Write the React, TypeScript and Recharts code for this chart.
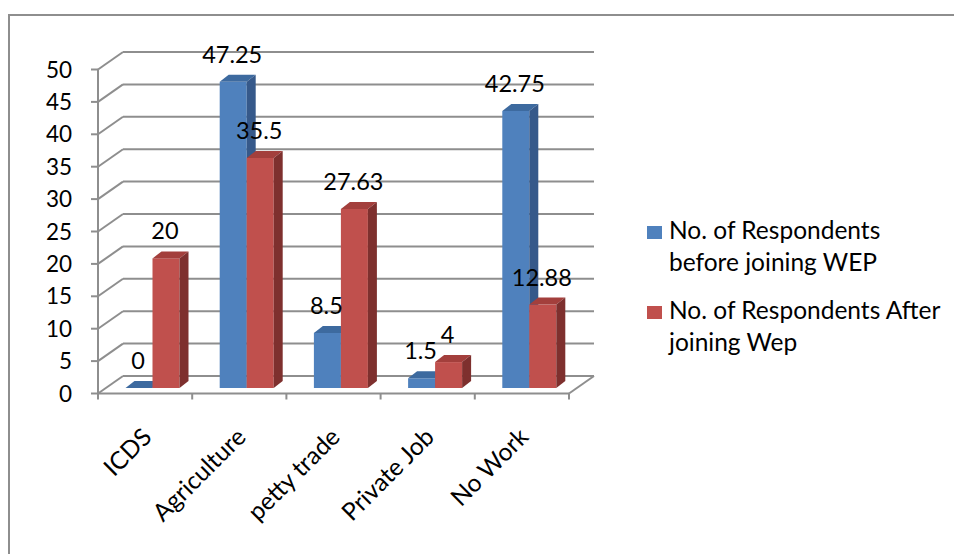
import React from "react";
import { BarChart, Bar, XAxis, YAxis, CartesianGrid, Legend, LabelList } from "recharts";

const categories = ["ICDS", "Agriculture", "petty trade", "Private Job", "No Work"];
const beforeWep = [0, 47.25, 8.5, 1.5, 42.75];
const afterWep = [20, 35.5, 27.63, 4, 12.88];
const yTicks = [0, 5, 10, 15, 20, 25, 30, 35, 40, 45, 50];
const seriesNames = [
  "No. of Respondents before joining WEP",
  "No. of Respondents After joining Wep",
];
const legendLines = [
  ["No. of Respondents", "before joining WEP"],
  ["No. of Respondents After", "joining Wep"],
];

const data = categories.map((name, i) => ({
  name,
  before: beforeWep[i],
  after: afterWep[i],
}));

const FONT = "Lato, Carlito, Calibri, sans-serif";
const GRID = "#8E8E8E";

// fake 3d: bars sit on the middle plane, axes in front, gridlines on the back wall
const FRONT = { dx: -7.5, dy: 5.5 };
const BACK = { dx: 17.5, dy: -12 };
const DEPTH = { dx: 9, dy: 7 };
const PLOT_BOTTOM = 388;

const renderGridLine = (props: any) => {
  const { x1, y1, x2, index } = props;
  const isFloor = Math.abs(y1 - PLOT_BOTTOM) < 1;
  return (
    <g key={`grid-${index}`} stroke={GRID} strokeWidth={2}>
      <line x1={x1 + FRONT.dx} y1={y1 + FRONT.dy} x2={x1 + BACK.dx} y2={y1 + BACK.dy} />
      <line x1={x1 + BACK.dx} y1={y1 + BACK.dy} x2={x2 + BACK.dx} y2={y1 + BACK.dy} />
      {isFloor && (
        <line x1={x2 + FRONT.dx} y1={y1 + FRONT.dy} x2={x2 + BACK.dx} y2={y1 + BACK.dy} />
      )}
    </g>
  );
};

const make3DBar = (front: string, top: string, side: string) => (props: any) => {
  const { x, y, width, height } = props;
  const h = Math.max(height, 0);
  return (
    <g>
      <rect x={x} y={y} width={width} height={h} fill={front} />
      <polygon
        points={`${x},${y} ${x + DEPTH.dx},${y - DEPTH.dy} ${x + width + DEPTH.dx},${y - DEPTH.dy} ${x + width},${y}`}
        fill={top}
      />
      <polygon
        points={`${x + width},${y} ${x + width + DEPTH.dx},${y - DEPTH.dy} ${x + width + DEPTH.dx},${y + h - DEPTH.dy} ${x + width},${y + h}`}
        fill={side}
      />
    </g>
  );
};

const BlueBar = make3DBar("#4F81BD", "#3D6A9F", "#36598A");
const RedBar = make3DBar("#C0504D", "#A33F3C", "#7E302E");

const renderValueLabel = (props: any) => {
  const { x, y, width, value } = props;
  return (
    <text
      x={x + width / 2 - 1}
      y={y - 19}
      textAnchor="middle"
      fontFamily={FONT}
      fontSize={23.5}
      fill="#000"
    >
      {value}
    </text>
  );
};

const YTick = (props: any) => {
  const { x, y, payload } = props;
  const fx = x + FRONT.dx;
  const fy = y + FRONT.dy;
  return (
    <g>
      <line x1={fx - 7} y1={fy} x2={fx} y2={fy} stroke={GRID} strokeWidth={2} />
      <text
        x={fx - 26}
        y={fy}
        dy="0.36em"
        textAnchor="end"
        fontFamily={FONT}
        fontSize={22.5}
        fill="#000"
      >
        {payload.value}
      </text>
    </g>
  );
};

const XTick = (props: any) => {
  const { x, y, payload, index, visibleTicksCount, width } = props;
  const band = width / visibleTicksCount;
  const fx = x + FRONT.dx;
  const fy = y + FRONT.dy;
  const ex = fx + 8;
  const ey = fy + 45;
  return (
    <g>
      <line x1={fx - band / 2} y1={fy} x2={fx - band / 2} y2={fy + 6} stroke={GRID} strokeWidth={2} />
      {index === visibleTicksCount - 1 && (
        <line x1={fx + band / 2} y1={fy} x2={fx + band / 2} y2={fy + 6} stroke={GRID} strokeWidth={2} />
      )}
      <text
        x={ex}
        y={ey}
        transform={`rotate(-45 ${ex} ${ey})`}
        textAnchor="end"
        fontFamily={FONT}
        fontSize={24.5}
        fill="#000"
      >
        {payload.value}
      </text>
    </g>
  );
};

const renderLegend = (props: any) => {
  const entries = [...props.payload].sort(
    (a: any, b: any) => seriesNames.indexOf(a.value) - seriesNames.indexOf(b.value)
  );
  return (
    <div style={{ fontFamily: FONT, fontSize: 24.5, color: "#000" }}>
      {entries.map((entry: any) => {
        const i = seriesNames.indexOf(entry.value);
        return (
          <div key={entry.value} style={{ display: "flex", alignItems: "flex-start", marginBottom: 16 }}>
            <span
              style={{
                display: "inline-block",
                width: 15,
                height: 13,
                background: entry.color,
                marginTop: 12,
                marginRight: 7,
                flexShrink: 0,
              }}
            />
            <div style={{ lineHeight: "32px", whiteSpace: "nowrap" }}>
              {legendLines[i].map((line) => (
                <div key={line}>{line}</div>
              ))}
            </div>
          </div>
        );
      })}
    </div>
  );
};

export default function App() {
  return (
    <div style={{ position: "absolute", left: 0, top: 0, width: 954, height: 554, background: "#fff" }}>
      <div
        style={{
          position: "absolute",
          left: 8,
          top: 14,
          width: 980,
          height: 600,
          borderTop: `2px solid ${GRID}`,
          borderLeft: `2px solid ${GRID}`,
        }}
      />
      <BarChart
        width={954}
        height={554}
        data={data}
        margin={{ top: 64, right: 377.5, left: 0, bottom: 66 }}
        barSize={27}
        barGap={0}
      >
        <CartesianGrid horizontal={renderGridLine} vertical={false} />
        <XAxis
          dataKey="name"
          height={100}
          interval={0}
          tickSize={0}
          tickMargin={0}
          tickLine={false}
          axisLine={{ stroke: GRID, strokeWidth: 2, transform: `translate(${FRONT.dx}, ${FRONT.dy})` }}
          tick={<XTick />}
        />
        <YAxis
          width={105.5}
          domain={[0, 50]}
          ticks={yTicks}
          interval={0}
          tickSize={0}
          tickMargin={0}
          tickLine={false}
          axisLine={{ stroke: GRID, strokeWidth: 2, transform: `translate(${FRONT.dx}, ${FRONT.dy})` }}
          tick={<YTick />}
        />
        <Legend
          layout="horizontal"
          align="center"
          verticalAlign="middle"
          wrapperStyle={{ left: 647, top: 214, width: 300 }}
          content={renderLegend}
        />
        <Bar dataKey="before" name={seriesNames[0]} fill="#4F81BD" shape={BlueBar} isAnimationActive={false}>
          <LabelList dataKey="before" content={renderValueLabel} />
        </Bar>
        <Bar dataKey="after" name={seriesNames[1]} fill="#C0504D" shape={RedBar} isAnimationActive={false}>
          <LabelList dataKey="after" content={renderValueLabel} />
        </Bar>
      </BarChart>
    </div>
  );
}
